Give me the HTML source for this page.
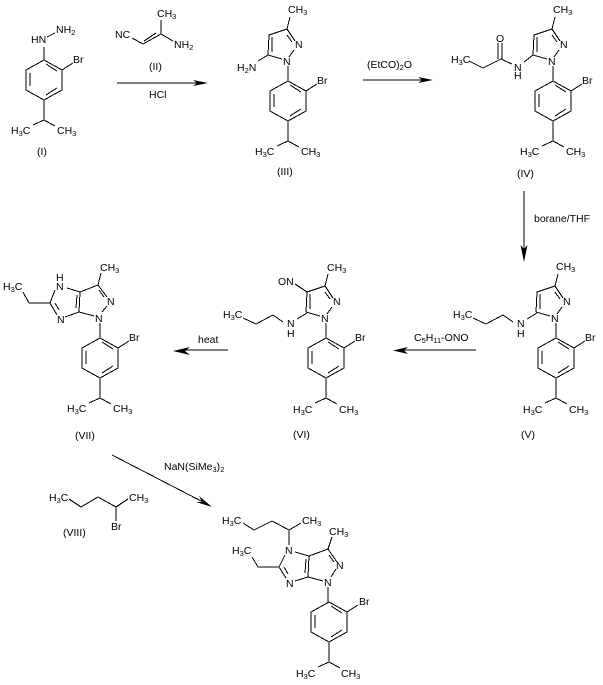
<!DOCTYPE html>
<html><head><meta charset="utf-8"><style>
html,body{margin:0;padding:0;background:#fff;width:603px;height:685px;overflow:hidden}
svg{display:block}
text{font-family:"Liberation Sans",Arial,sans-serif;font-size:10.5px;fill:#000}
tspan.s{font-size:7.5px}
path.b{fill:none;stroke:#000;stroke-width:1;shape-rendering:crispEdges}
</style></head><body>
<svg width="603" height="685" viewBox="0 0 603 685" xmlns="http://www.w3.org/2000/svg">

<!-- I -->
<g transform="translate(44,60)">
<path class="b" d="M0,0L18,10L18,30L0,40L-18,30L-18,10ZM2,4L13,11M-14,13V26M2,35L13,28M18,10L29,3M0,40V60L-11,65M0,60L11,66"/>
<text x="29" y="3">Br</text><text x="-33" y="74">H<tspan class="s" dy="2">3</tspan><tspan dy="-2">C</tspan></text><text x="13" y="74">CH<tspan class="s" dy="2">3</tspan></text>
</g>
<path class="b" d="M44,47V60M47,37L55,33"/>
<text x="31" y="43">HN</text>
<text x="56" y="33">NH<tspan class="s" dy="2">2</tspan></text>
<text x="37" y="155">(I)</text>

<!-- II -->
<path class="b" d="M132,38L143,44L161,34V20M144,41L156,33M161,34L173,41"/>
<text x="115" y="38">NC</text>
<text x="157" y="17">CH<tspan class="s" dy="2">3</tspan></text>
<text x="174" y="48">NH<tspan class="s" dy="2">2</tspan></text>
<text x="149" y="70">(II)</text>

<!-- arrow 1 -->
<path class="b" d="M117,83H200"/>
<path d="M208,83L193,80L197,83L193,86Z"/>
<text x="149" y="98">HCl</text>

<!-- III -->
<g transform="translate(288,81)">
<path class="b" d="M0,0L18,10L18,30L0,40L-18,30L-18,10ZM2,4L13,11M-14,13V26M2,35L13,28M18,10L29,3M0,40V60L-11,65M0,60L11,66"/>
<text x="29" y="3">Br</text><text x="-33" y="74">H<tspan class="s" dy="2">3</tspan><tspan dy="-2">C</tspan></text><text x="13" y="74">CH<tspan class="s" dy="2">3</tspan></text>
<path class="b" d="M-1,-52L2,-64M-1,-52L-19,-46L-20,-26M-16,-44L-16,-29M-1,-52L7,-40M-1,-46L4,-39M6,-31L1,-24M-20,-26L-6,-22M0,-15V0"/>
<text x="-5" y="-16">N</text><text x="7" y="-33">N</text><text x="0" y="-68">CH<tspan class="s" dy="2">3</tspan></text>
<path class="b" d="M-20,-26L-30,-20"/>
<text x="-51" y="-10">H<tspan class="s" dy="2">2</tspan><tspan dy="-2">N</tspan></text>
<text x="-11" y="94">(III)</text>
</g>

<!-- arrow 2 -->
<path class="b" d="M363,80H425"/>
<path d="M433,80L418,77L422,80L418,83Z"/>
<text x="367" y="68">(EtCO)<tspan class="s" dy="2">2</tspan><tspan dy="-2">O</tspan></text>

<!-- IV -->
<g transform="translate(553,81)">
<path class="b" d="M0,0L18,10L18,30L0,40L-18,30L-18,10ZM2,4L13,11M-14,13V26M2,35L13,28M18,10L29,3M0,40V60L-11,65M0,60L11,66"/>
<text x="29" y="3">Br</text><text x="-33" y="74">H<tspan class="s" dy="2">3</tspan><tspan dy="-2">C</tspan></text><text x="13" y="74">CH<tspan class="s" dy="2">3</tspan></text>
<path class="b" d="M-1,-52L2,-64M-1,-52L-19,-46L-20,-26M-16,-44L-16,-29M-1,-52L7,-40M-1,-46L4,-39M6,-31L1,-24M-20,-26L-6,-22M0,-15V0"/>
<text x="-5" y="-16">N</text><text x="7" y="-33">N</text><text x="0" y="-68">CH<tspan class="s" dy="2">3</tspan></text>
<text x="-36" y="96">(IV)</text>
</g>
<path class="b" d="M533,55L524,62M512,64L501,59L483,68L469,61M498,59V43M502,59V43"/>
<text x="514" y="71">N</text><text x="514" y="79">H</text>
<text x="496" y="42">O</text>
<text x="451" y="63">H<tspan class="s" dy="2">3</tspan><tspan dy="-2">C</tspan></text>

<!-- arrow 3 -->
<path class="b" d="M524,191V254"/>
<path d="M524,262L520.5,245L524,249L527.5,245Z"/>
<text x="534" y="222">borane/THF</text>

<!-- V -->
<g transform="translate(556,338)">
<path class="b" d="M0,0L18,10L18,30L0,40L-18,30L-18,10ZM2,4L13,11M-14,13V26M2,35L13,28M18,10L29,3M0,40V60L-11,65M0,60L11,66"/>
<text x="29" y="3">Br</text><text x="-33" y="75">H<tspan class="s" dy="2">3</tspan><tspan dy="-2">C</tspan></text><text x="13" y="75">CH<tspan class="s" dy="2">3</tspan></text>
<path class="b" d="M-1,-52L2,-64M-1,-52L-19,-46L-20,-26M-16,-44L-16,-29M-1,-52L7,-40M-1,-46L4,-39M6,-31L1,-24M-20,-26L-6,-22M0,-15V0"/>
<text x="-5" y="-16">N</text><text x="7" y="-33">N</text><text x="0" y="-68">CH<tspan class="s" dy="2">3</tspan></text>
<text x="-35" y="100">(V)</text>
</g>
<path class="b" d="M537,313L527,319M513,322L503,315L486,324L473,318"/>
<text x="517" y="327">N</text><text x="517" y="337">H</text>
<text x="453" y="318">H<tspan class="s" dy="2">3</tspan><tspan dy="-2">C</tspan></text>

<!-- arrow 4 -->
<path class="b" d="M476,350H400"/>
<path d="M393,350.5L408,347L404,350.5L408,354Z"/>
<text x="414" y="341">C<tspan class="s" dy="2">5</tspan><tspan dy="-2">H</tspan><tspan class="s" dy="2">11</tspan><tspan dy="-2">-ONO</tspan></text>

<!-- VI -->
<g transform="translate(326,338)">
<path class="b" d="M0,0L18,10L18,30L0,40L-18,30L-18,10ZM2,4L13,11M-14,13V26M2,35L13,28M18,10L29,3M0,40V60L-11,65M0,60L11,66"/>
<text x="29" y="3">Br</text><text x="-33" y="75">H<tspan class="s" dy="2">3</tspan><tspan dy="-2">C</tspan></text><text x="13" y="75">CH<tspan class="s" dy="2">3</tspan></text>
<path class="b" d="M-1,-52L2,-64M-1,-52L-19,-46L-20,-26M-16,-44L-16,-29M-1,-52L7,-40M-1,-46L4,-39M6,-31L1,-24M-20,-26L-6,-22M0,-15V0"/>
<text x="-5" y="-16">N</text><text x="7" y="-33">N</text><text x="1" y="-67">CH<tspan class="s" dy="2">3</tspan></text>
<text x="-33" y="100">(VI)</text>
</g>
<path class="b" d="M295,284L307,292M307,313L297,319M283,322L273,315L256,324L243,318"/>
<text x="278" y="285">ON</text>
<text x="287" y="327">N</text><text x="287" y="337">H</text>
<text x="223" y="318">H<tspan class="s" dy="2">3</tspan><tspan dy="-2">C</tspan></text>

<!-- arrow 5 -->
<path class="b" d="M228,350H181"/>
<path d="M173,351L190,347L185,351L190,355Z"/>
<text x="198" y="343">heat</text>

<!-- VII -->
<g transform="translate(100,338)">
<path class="b" d="M0,0L18,10L18,30L0,40L-18,30L-18,10ZM2,4L13,11M-14,13V26M2,35L13,28M18,10L29,3M0,40V60L-11,65M0,60L11,66"/>
<text x="29" y="3">Br</text><text x="-33" y="74">H<tspan class="s" dy="2">3</tspan><tspan dy="-2">C</tspan></text><text x="13" y="74">CH<tspan class="s" dy="2">3</tspan></text>
<path class="b" d="M-2,-53L1,-65M-2,-53L-20,-46L-21,-26M-23,-43L-24,-30M-2,-53L7,-41M-1,-48L4,-41M7,-32L2,-26M-21,-26L-6,-22M0,-15V0"/>
<text x="-5" y="-16">N</text><text x="7" y="-33">N</text><text x="0" y="-67">CH<tspan class="s" dy="2">3</tspan></text>
<text x="-25" y="101">(VII)</text>
</g>
<path class="b" d="M80,292L67,288M79,312L65,317M55,290L50,303L57,315M55,303L59,310M50,303L29,303L23,292"/>
<text x="56" y="281">H</text><text x="56" y="290">N</text><text x="57" y="323">N</text>
<text x="3" y="290">H<tspan class="s" dy="2">3</tspan><tspan dy="-2">C</tspan></text>

<!-- arrow 6 -->
<path class="b" d="M112,455L203,502"/>
<path d="M212,507L196,502L202,502L199,496Z"/>
<text x="164" y="470">NaN(SiMe<tspan class="s" dy="2">3</tspan><tspan dy="-2">)</tspan><tspan class="s" dy="2">2</tspan></text>

<!-- VIII -->
<path class="b" d="M69,499L81,507L98,497L116,507L128,499M116,507V521"/>
<text x="49" y="501">H<tspan class="s" dy="2">3</tspan><tspan dy="-2">C</tspan></text>
<text x="129" y="501">CH<tspan class="s" dy="2">3</tspan></text>
<text x="111" y="530">Br</text>
<text x="63" y="536">(VIII)</text>

<!-- final -->
<g transform="translate(329,602)">
<path class="b" d="M0,0L18,10L18,30L0,40L-18,30L-18,10ZM2,4L13,11M-14,13V26M2,35L13,28M18,10L29,3M0,40V60L-11,65M0,60L11,66"/>
<text x="30" y="3">Br</text><text x="-33" y="75">H<tspan class="s" dy="2">3</tspan><tspan dy="-2">C</tspan></text><text x="12" y="75">CH<tspan class="s" dy="2">3</tspan></text>
</g>
<path class="b" d="M328,549L332,537M328,549L309,556L308,577M306,559L305,573M328,549L337,562M329,555L334,562M336,569L331,577M308,577L323,581M328,587V602M309,556L295,552M308,577L295,581M285,555L279,567L286,578M284,567L288,574M279,567L258,567L252,557M289,545V530L301,523M289,530L272,521L254,530L243,523"/>
<text x="324" y="586">N</text><text x="336" y="569">N</text>
<text x="329" y="535">CH<tspan class="s" dy="2">3</tspan></text>
<text x="285" y="554">N</text><text x="286" y="587">N</text>
<text x="232" y="554">H<tspan class="s" dy="2">3</tspan><tspan dy="-2">C</tspan></text>
<text x="302" y="524">CH<tspan class="s" dy="2">3</tspan></text>
<text x="222" y="524">H<tspan class="s" dy="2">3</tspan><tspan dy="-2">C</tspan></text>

</svg>
</body></html>
